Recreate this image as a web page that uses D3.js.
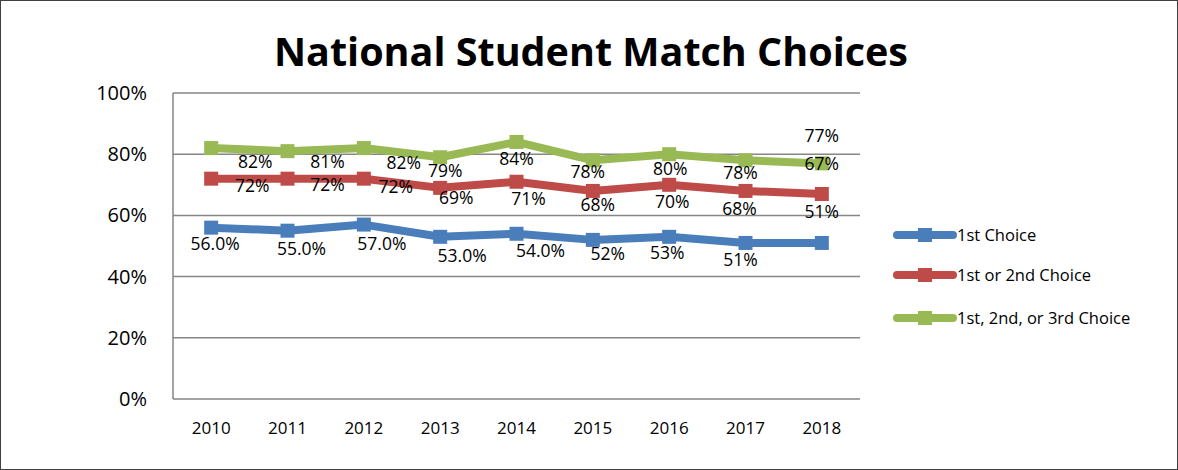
<!DOCTYPE html>
<html>
<head>
<meta charset="utf-8">
<script src="https://cdn.jsdelivr.net/npm/d3@7"></script>
<style>
  html, body { margin: 0; padding: 0; background: #fff; }
  svg { display: block; font-family: "Open Sans", "Liberation Sans", sans-serif; }
</style>
</head>
<body>
<svg width="1178" height="470"></svg>
<script>
const years = ["2010", "2011", "2012", "2013", "2014", "2015", "2016", "2017", "2018"];
const seriesNames = ["1st Choice", "1st or 2nd Choice", "1st, 2nd, or 3rd Choice"];
const firstChoice = [56, 55, 57, 53, 54, 52, 53, 51, 51];
const firstOrSecond = [72, 72, 72, 69, 71, 68, 70, 68, 67];
const firstSecondThird = [82, 81, 82, 79, 84, 78, 80, 78, 77];
const labelText = [
  ["56.0%", "55.0%", "57.0%", "53.0%", "54.0%", "52%", "53%", "51%", "51%"],
  ["72%", "72%", "72%", "69%", "71%", "68%", "70%", "68%", "67%"],
  ["82%", "81%", "82%", "79%", "84%", "78%", "80%", "78%", "77%"]
];
const yTicks = [0, 20, 40, 60, 80, 100];
const colors = ["#4a7ebb", "#be4b48", "#98b954"];

// label nudges (px) relative to each point, as placed in the original chart
const labelDx = [
  [4, 14, 18, 22, 24, 15, -2, -5, 0],
  [41, 40, 32, 16, 12, 5, 3, -6, 0],
  [44, 40, 40, 5, 0, -5, 1, -5, 0]
];
const labelDy = [
  [16, 18, 19, 19, 17, 14, 16, 17, -31],
  [7, 6, 8, 10, 17, 14, 17, 18, -30],
  [14, 11, 15, 14, 17, 12, 15, 13, -28]
];

const svg = d3.select("svg");
const w = +svg.attr("width");
const h = +svg.attr("height");
const m = { left: 173, right: 860, top: 93, bottom: 399 };

svg.append("rect")
  .attr("x", 0.5).attr("y", 0.5)
  .attr("width", w - 1).attr("height", h - 1)
  .attr("fill", "#fff").attr("stroke", "#404040");

svg.append("text")
  .attr("x", 591).attr("y", 66)
  .attr("text-anchor", "middle")
  .attr("font-size", 40).attr("font-weight", "bold")
  .attr("textLength", 634).attr("lengthAdjust", "spacingAndGlyphs")
  .text("National Student Match Choices");

const x = d3.scaleBand().domain(years).range([m.left, m.right]);
const y = d3.scaleLinear().domain([0, 100]).range([m.bottom, m.top]);

// gridlines
svg.append("g")
  .selectAll("line")
  .data(yTicks)
  .join("line")
  .attr("x1", m.left).attr("x2", m.right)
  .attr("y1", d => y(d)).attr("y2", d => y(d))
  .attr("stroke", "#868686").attr("stroke-width", 1.5);

svg.append("line")
  .attr("x1", m.left).attr("x2", m.left)
  .attr("y1", m.top).attr("y2", m.bottom)
  .attr("stroke", "#868686").attr("stroke-width", 1.5);

const yAxis = svg.append("g")
  .attr("transform", `translate(${m.left - 26},0)`)
  .call(d3.axisLeft(y).tickValues(yTicks).tickSize(0).tickFormat(d => d + "%"));
yAxis.select(".domain").remove();
yAxis.selectAll("text")
  .attr("font-size", 20).attr("fill", "#000")
  .attr("font-family", "'Open Sans', sans-serif")
  .attr("x", 0);

const xAxis = svg.append("g")
  .attr("transform", `translate(0,${m.bottom + 20})`)
  .call(d3.axisBottom(x).tickSize(0));
xAxis.select(".domain").remove();
xAxis.selectAll("text")
  .attr("font-size", 17).attr("fill", "#000")
  .attr("font-family", "'Open Sans', sans-serif");

const allSeries = [firstChoice, firstOrSecond, firstSecondThird];
const cx = i => x(years[i]) + x.bandwidth() / 2;
const line = d3.line().x((d, i) => cx(i)).y(d => y(d));

allSeries.forEach((vals, s) => {
  const g = svg.append("g");
  g.append("path")
    .datum(vals)
    .attr("d", line)
    .attr("fill", "none")
    .attr("stroke", colors[s])
    .attr("stroke-width", 8)
    .attr("stroke-linejoin", "round")
    .attr("stroke-linecap", "round");
  g.selectAll("rect")
    .data(vals)
    .join("rect")
    .attr("x", (d, i) => cx(i) - 7)
    .attr("y", d => y(d) - 7)
    .attr("width", 14).attr("height", 14)
    .attr("fill", colors[s]);
});

allSeries.forEach((vals, s) => {
  svg.append("g")
    .selectAll("text")
    .data(vals)
    .join("text")
    .attr("x", (d, i) => cx(i) + labelDx[s][i])
    .attr("y", (d, i) => y(d) + labelDy[s][i])
    .attr("dy", "0.35em")
    .attr("text-anchor", "middle")
    .attr("font-size", 17.5)
    .attr("fill", "#000")
    .text((d, i) => labelText[s][i]);
});

// legend
const legend = svg.append("g").attr("transform", "translate(897,235)");
seriesNames.forEach((name, s) => {
  const row = legend.append("g").attr("transform", `translate(0,${[0, 40, 83][s]})`);
  row.append("line")
    .attr("x1", 0).attr("x2", 56)
    .attr("stroke", colors[s]).attr("stroke-width", 8)
    .attr("stroke-linecap", "round");
  row.append("rect")
    .attr("x", 21).attr("y", -7).attr("width", 14).attr("height", 14)
    .attr("fill", colors[s]);
  row.append("text")
    .attr("x", 60).attr("dy", "0.35em")
    .attr("font-size", 16.5).attr("fill", "#000")
    .text(name);
});
</script>
</body>
</html>
